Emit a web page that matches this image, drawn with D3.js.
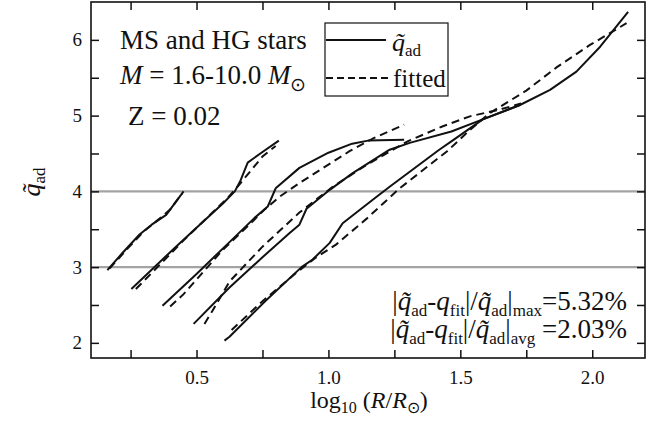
<!DOCTYPE html>
<html><head><meta charset="utf-8">
<script src="https://cdn.jsdelivr.net/npm/d3@7"></script>
<style>
body{margin:0;background:#fff;}
text{font-family:"Liberation Serif","Times New Roman",serif;fill:#111;}
</style></head>
<body><svg id="c" width="670" height="431"></svg>
<script>
// ---- data (x = log10 R/Rsun, y = q_ad) ----
const solid1 = [[0.162,2.96],[0.22,3.19],[0.284,3.43],[0.33,3.56],[0.385,3.69],[0.451,4.0]];
const dashed1 = [[0.17,2.98],[0.24,3.25],[0.30,3.47],[0.36,3.64],[0.40,3.76],[0.445,3.97]];
const solid2 = [[0.253,2.71],[0.416,3.25],[0.5,3.52],[0.60,3.84],[0.645,4.0],[0.665,4.13],[0.694,4.38],[0.75,4.52],[0.812,4.67]];
const dashed2 = [[0.27,2.71],[0.29,2.78],[0.45,3.35],[0.62,3.92],[0.66,4.08],[0.75,4.46],[0.80,4.60]];
const solid3 = [[0.371,2.49],[0.5,2.91],[0.625,3.33],[0.72,3.65],[0.77,3.80],[0.80,4.04],[0.89,4.31],[1.0,4.51],[1.09,4.63],[1.15,4.67],[1.287,4.68]];
const dashed3 = [[0.40,2.48],[0.45,2.64],[0.6,3.23],[0.70,3.56],[0.758,3.76],[0.815,3.93],[0.89,4.11],[0.967,4.28],[1.08,4.53],[1.17,4.70],[1.287,4.88]];
const solid4 = [[0.489,2.25],[0.625,2.73],[0.75,3.13],[0.853,3.45],[0.89,3.56],[0.917,3.77],[1.005,4.02],[1.092,4.24],[1.232,4.55],[1.308,4.64],[1.466,4.79],[1.585,4.95],[1.726,5.14]];
const dashed4 = [[0.53,2.25],[0.56,2.42],[0.625,2.81],[0.75,3.27],[0.89,3.72],[1.016,4.06],[1.145,4.35],[1.30,4.66],[1.434,4.86],[1.536,4.99],[1.65,5.08],[1.73,5.16]];
const solid5 = [[0.606,2.03],[0.625,2.08],[0.76,2.55],[0.898,3.0],[0.94,3.10],[1.005,3.32],[1.054,3.58],[1.168,3.89],[1.232,4.06],[1.42,4.55],[1.466,4.66],[1.585,4.95],[1.726,5.14],[1.84,5.34],[1.94,5.58],[2.03,5.91],[2.136,6.37]];
const dashed5 = [[0.633,2.17],[0.75,2.55],[0.88,2.93],[0.95,3.12],[1.03,3.30],[1.145,3.64],[1.27,4.04],[1.45,4.53],[1.536,4.81],[1.61,5.03],[1.75,5.33],[1.866,5.64],[1.99,5.93],[2.13,6.22]];
const solidSeries = [solid1, solid2, solid3, solid4, solid5];
const dashedSeries = [dashed1, dashed2, dashed3, dashed4, dashed5];
const refLines = [3, 4];
const xTicks = [0.25,0.5,0.75,1.0,1.25,1.5,1.75,2.0];
const xLabeled = [0.5,1.0,1.5,2.0];
const yTicks = [2,2.5,3,3.5,4,4.5,5,5.5,6];
const yLabeled = [2,3,4,5,6];
const errMax = "5.32%";
const errAvg = "2.03%";

const svg = d3.select("#c");
const L=91, R=645, T=2, B=358;
const x = d3.scaleLinear().domain([0.1,2.2]).range([L,R]);
const y = d3.scaleLinear().domain([1.8,6.5]).range([B,T]);

// reference lines
svg.selectAll("line.ref").data(refLines).enter().append("line")
  .attr("x1",L).attr("x2",R).attr("y1",d=>y(d)).attr("y2",d=>y(d))
  .attr("stroke","#a3a3a3").attr("stroke-width",2.2);

const line = d3.line().x(d=>x(d[0])).y(d=>y(d[1]));
svg.selectAll("path.s").data(solidSeries).enter().append("path")
  .attr("d",line).attr("fill","none").attr("stroke","#111").attr("stroke-width",2).attr("stroke-linejoin","round");
svg.selectAll("path.d").data(dashedSeries).enter().append("path")
  .attr("d",line).attr("fill","none").attr("stroke","#111").attr("stroke-width",2).attr("stroke-dasharray","8,5");

// axes with inward ticks
const fmtX = d => xLabeled.includes(d) ? d3.format(".1f")(d) : "";
const fmtY = d => yLabeled.includes(d) ? d3.format("d")(d) : "";
function styleAxis(g){ g.select(".domain").remove(); g.selectAll("line").attr("stroke","#111").attr("stroke-width",1.5);
  g.selectAll("text").attr("font-family","Liberation Serif").attr("font-size",19).attr("fill","#111"); }
svg.append("g").attr("transform",`translate(0,${B})`)
  .call(d3.axisBottom(x).tickValues(xTicks).tickSize(-8).tickPadding(13).tickFormat(fmtX)).call(styleAxis);
svg.append("g").attr("transform",`translate(0,${T})`)
  .call(d3.axisTop(x).tickValues(xTicks).tickSize(-8).tickFormat("")).call(styleAxis);
svg.append("g").attr("transform",`translate(${L},0)`)
  .call(d3.axisLeft(y).tickValues(yTicks).tickSize(-8).tickPadding(9).tickFormat(fmtY)).call(styleAxis);
svg.append("g").attr("transform",`translate(${R},0)`)
  .call(d3.axisRight(y).tickValues(yTicks).tickSize(-8).tickFormat("")).call(styleAxis);
svg.append("rect").attr("x",L).attr("y",T).attr("width",R-L).attr("height",B-T)
  .attr("fill","none").attr("stroke","#111").attr("stroke-width",1.6);

// rich text helper: parts = [text, style] where style: i=italic, sub=subscript
function rich(sel, parts, size, subSize, subDy){
  let down=false;
  parts.forEach(p=>{
    const [t, st] = Array.isArray(p) ? p : [p, ""];
    const ts = sel.append("tspan").text(t);
    const isSub = st.includes("sub");
    if (isSub && !down){ ts.attr("dy",subDy); down=true; }
    else if (!isSub && down){ ts.attr("dy",-subDy); down=false; }
    ts.attr("font-size", isSub ? subSize : size);
    if (st.includes("i")) ts.attr("font-style","italic");
  });
  return sel;
}
const qt = "q\u0303";

// annotation
svg.append("text").attr("x",120).attr("y",49).attr("font-size",27).text("MS and HG stars");
rich(svg.append("text").attr("x",120).attr("y",84),
  [["M","i"]," = 1.6-10.0 ",["M","i"],["\u2299","sub"]], 27, 19, 7);
svg.append("text").attr("x",128).attr("y",125).attr("font-size",27).text("Z = 0.02");

// legend
svg.append("rect").attr("x",325).attr("y",23).attr("width",123).attr("height",73)
  .attr("fill","#fff").attr("stroke","#111").attr("stroke-width",1.2);
svg.append("line").attr("x1",326).attr("x2",386).attr("y1",40).attr("y2",40).attr("stroke","#111").attr("stroke-width",2);
svg.append("line").attr("x1",326).attr("x2",390).attr("y1",78).attr("y2",78).attr("stroke","#111").attr("stroke-width",2).attr("stroke-dasharray","7,4");
rich(svg.append("text").attr("x",392).attr("y",51), [[qt,"i"],["ad","sub"]], 26, 17, 5);
svg.append("text").attr("x",393).attr("y",87).attr("font-size",25).text("fitted");

// error text
rich(svg.append("text").attr("x",627).attr("y",310).attr("text-anchor","end"),
  ["|",[qt,"i"],["ad","sub"],"-",["q","i"],["fit","sub"],"|/",[qt,"i"],["ad","sub"],"|",["max","sub"],"="+errMax], 27, 17, 6);
rich(svg.append("text").attr("x",627).attr("y",338).attr("text-anchor","end"),
  ["|",[qt,"i"],["ad","sub"],"-",["q","i"],["fit","sub"],"|/",[qt,"i"],["ad","sub"],"|",["avg","sub"]," ="+errAvg], 27, 17, 6);

// axis titles
rich(svg.append("text").attr("x",369).attr("y",408).attr("text-anchor","middle"),
  ["log",["10","sub"]," (",["R","i"],"/",["R","i"],["\u2299","sub"],")"], 24, 16, 5);
rich(svg.append("text").attr("transform","translate(40,182) rotate(-90)").attr("text-anchor","middle"),
  [[qt,"i"],["ad","sub"]], 26, 17, 5);
</script></body></html>
